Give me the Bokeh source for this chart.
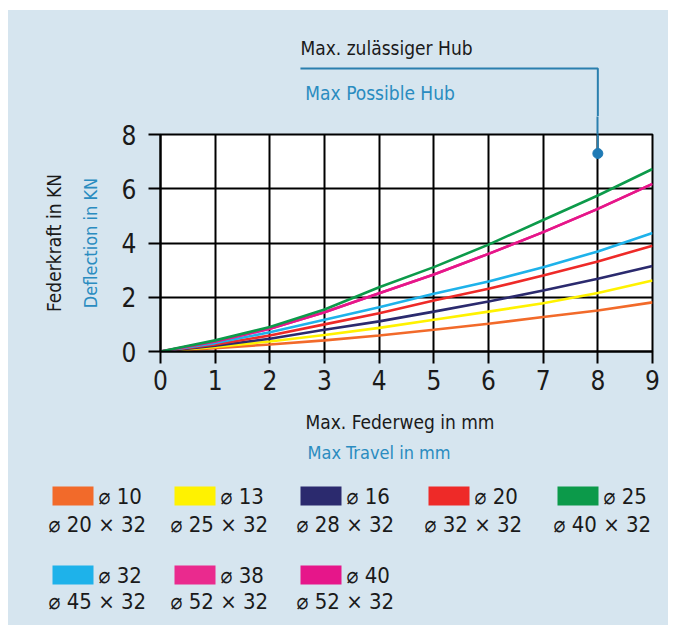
from bokeh.plotting import figure
from bokeh.models import Range1d, FixedTicker, LinearAxis
from bokeh.layouts import column
from bokeh.embed import file_html
from bokeh.resources import INLINE
from bokeh.core.properties import value

BG = "#d6e5ef"
FONT = "DejaVu Sans Condensed, Roboto"
BLUE = "#2a8cc0"
LINE_BLUE = "#2a7fae"
INK = "#1a1a1a"

# ---- data ----
travel_mm = [0, 1, 2, 3, 4, 5, 6, 7, 8, 9]
y_ticks = [0, 2, 4, 6, 8]

force_d10 = [0, 0.12, 0.26, 0.41, 0.59, 0.80, 1.02, 1.27, 1.51, 1.81]
force_d13 = [0, 0.17, 0.37, 0.61, 0.87, 1.17, 1.47, 1.78, 2.16, 2.62]
force_d16 = [0, 0.21, 0.47, 0.80, 1.11, 1.47, 1.84, 2.25, 2.68, 3.15]
force_d20 = [0, 0.26, 0.59, 1.00, 1.41, 1.88, 2.31, 2.80, 3.32, 3.90]
force_d25 = [0, 0.41, 0.90, 1.55, 2.37, 3.11, 3.94, 4.85, 5.75, 6.73]
force_d32 = [0, 0.31, 0.71, 1.17, 1.63, 2.13, 2.58, 3.11, 3.69, 4.37]
force_d38 = [0, 0.37, 0.84, 1.45, 2.15, 2.84, 3.60, 4.40, 5.26, 6.18]
force_d40 = [0, 0.37, 0.84, 1.45, 2.15, 2.84, 3.60, 4.40, 5.26, 6.18]

series_names = ["⌀ 10", "⌀ 13", "⌀ 16", "⌀ 20", "⌀ 25", "⌀ 32", "⌀ 38", "⌀ 40"]
series_sizes = ["⌀ 20 × 32", "⌀ 25 × 32", "⌀ 28 × 32", "⌀ 32 × 32", "⌀ 40 × 32",
                "⌀ 45 × 32", "⌀ 52 × 32", "⌀ 52 × 32"]
series_colors = ["#f26a2a", "#fff200", "#2b2a6e", "#ee2a28", "#0c9a4a",
                 "#1eb2ea", "#ea2a8e", "#e6168a"]
series_values = [force_d10, force_d13, force_d16, force_d20, force_d25,
                 force_d32, force_d38, force_d40]

max_hub_travel = 8
max_hub_force = 7.3
hub_label_de = "Max. zulässiger Hub"
hub_label_en = "Max Possible Hub"
x_label_de = "Max. Federweg in mm"
x_label_en = "Max Travel in mm"
y_label_de = "Federkraft in KN"
y_label_en = "Deflection in KN"

W = 660
FRAME_L, FRAME_R = 152, 16
x_range = Range1d(0, 9)

# ---- top annotation strip ----
TOP_H = 106
top = figure(width=W, height=TOP_H, x_range=x_range, y_range=Range1d(TOP_H, 0),
             output_backend="svg", toolbar_location=None,
             min_border_left=FRAME_L, min_border_right=FRAME_R, min_border_top=0, min_border_bottom=0,
             x_axis_location=None, y_axis_location=None,
             background_fill_color=BG, border_fill_color=BG, outline_line_color=None)
top.grid.visible = False
hub_text_x = 2.56
top.text([hub_text_x], [37], text=[hub_label_de], text_font=value(FONT),
         text_font_size="19px", text_baseline="middle", text_color=INK)
top.text([hub_text_x + 0.09], [82], text=[hub_label_en], text_font=value(FONT),
         text_font_size="19px", text_baseline="middle", text_color=BLUE)
top.line([hub_text_x, max_hub_travel, max_hub_travel], [58, 58, TOP_H],
         line_color=LINE_BLUE, line_width=2)

# ---- chart ----
p = figure(width=W, height=281, x_range=x_range, y_range=Range1d(0, 8),
           output_backend="svg", toolbar_location=None,
           min_border_left=FRAME_L, min_border_right=FRAME_R, min_border_top=18, min_border_bottom=46,
           background_fill_color="white", border_fill_color=BG,
           outline_line_color="black", outline_line_width=2)

p.xaxis.ticker = FixedTicker(ticks=travel_mm)
p.yaxis.ticker = FixedTicker(ticks=y_ticks)
for ax in (p.xaxis[0], p.yaxis[0]):
    ax.axis_line_color = "black"
    ax.axis_line_width = 2
    ax.major_tick_line_color = "black"
    ax.major_tick_line_width = 2
    ax.major_tick_out = 12
    ax.major_tick_in = 0
    ax.minor_tick_line_color = None
    ax.major_label_text_font = FONT
    ax.major_label_text_font_size = "26px"
    ax.major_label_text_color = INK
    ax.axis_label_text_font = FONT
    ax.axis_label_text_font_style = "normal"
p.xaxis.major_label_standoff = 6
p.yaxis.major_label_standoff = 12

p.yaxis.axis_label = y_label_en
p.yaxis.axis_label_text_color = BLUE
p.yaxis.axis_label_text_font_size = "18px"
p.yaxis.axis_label_standoff = 18

p.add_layout(LinearAxis(axis_label=y_label_de, ticker=FixedTicker(ticks=[]),
                        axis_line_color=None, major_tick_line_color=None,
                        minor_tick_line_color=None, major_label_text_font_size="0px",
                        major_label_text_alpha=0, major_tick_out=0, major_tick_in=0,
                        axis_label_text_font=FONT, axis_label_text_font_size="19px",
                        axis_label_text_font_style="normal",
                        axis_label_text_color=INK, axis_label_standoff=12), "left")

# connector tick above the frame (continues the annotation line)
hub_axis = LinearAxis(ticker=FixedTicker(ticks=[max_hub_travel]), axis_line_color=None,
                      major_tick_line_color=LINE_BLUE, major_tick_line_width=2,
                      major_tick_out=18, major_tick_in=0, minor_tick_line_color=None,
                      major_label_text_font_size="0px", major_label_text_alpha=0,
                      major_label_standoff=0)
p.add_layout(hub_axis, "above")

p.grid.grid_line_color = "black"
p.grid.grid_line_width = 2
p.grid.grid_line_alpha = 1

order = [0, 1, 2, 3, 5, 6, 7, 4]
for i in order:
    p.line(travel_mm, series_values[i], line_color=series_colors[i], line_width=2.6)

p.segment(x0=[max_hub_travel], y0=[max_hub_force], x1=[max_hub_travel], y1=[8],
          line_color=LINE_BLUE, line_width=2)
p.scatter([max_hub_travel], [max_hub_force], size=10, color="#1f7ab5")

# ---- x-axis titles and legend ----
LG_H = 228
lg = figure(width=W, height=LG_H, x_range=Range1d(0, W), y_range=Range1d(LG_H, 0),
            output_backend="svg", toolbar_location=None, min_border=0,
            x_axis_location=None, y_axis_location=None, frame_align=False,
            background_fill_color=BG, border_fill_color=BG, outline_line_color=None)
lg.grid.visible = False

lg.text([297], [24], text=[x_label_de], text_font=value(FONT), text_font_size="19px",
        text_baseline="middle", text_color=INK)
lg.text([299], [55], text=[x_label_en], text_font=value(FONT), text_font_size="18px",
        text_baseline="middle", text_color=BLUE)

col_left = [44, 166, 292, 420, 549]
row_top = [89, 168]
row_line2 = [127, 204]
sw_w, sw_h = 41, 19
for k in range(len(series_names)):
    c, r = k % 5, k // 5
    x0, y0 = col_left[c], row_top[r]
    lg.quad(left=[x0], right=[x0 + sw_w], top=[y0], bottom=[y0 + sw_h],
            fill_color=series_colors[k], line_color=None)
    lg.text([x0 + sw_w + 5], [y0 + sw_h / 2], text=[series_names[k]],
            text_font=value(FONT), text_font_size="22px", text_baseline="middle",
            text_color=INK)
    lg.text([x0 - 4], [row_line2[r]], text=[series_sizes[k]],
            text_font=value(FONT), text_font_size="22px", text_baseline="middle",
            text_color=INK)

layout = column(top, p, lg, margin=(10, 0, 0, 8), styles={"background-color": BG})
open("out.html", "w").write(file_html(layout, INLINE))
